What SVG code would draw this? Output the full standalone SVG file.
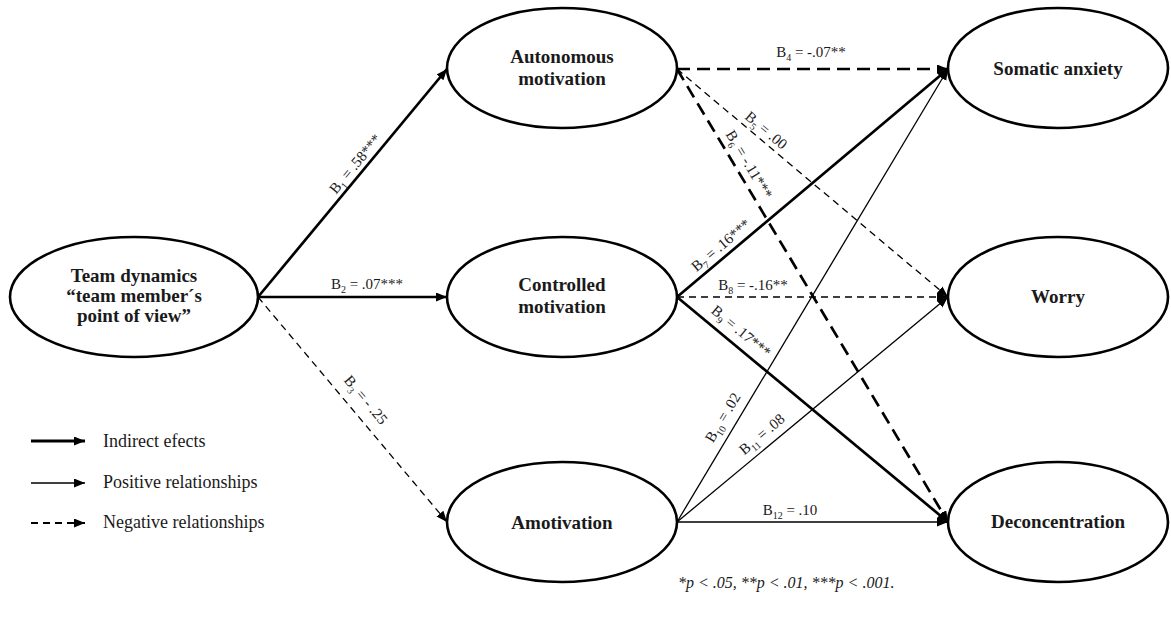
<svg xmlns="http://www.w3.org/2000/svg" width="1171" height="619" viewBox="0 0 1171 619">
<defs>
<style>
.node ellipse{fill:#fff;stroke:#000;stroke-width:2.6}
.nl{font-family:"Liberation Serif",serif;font-weight:bold;font-size:19px;text-anchor:middle;fill:#1a1a1a}
.el{font-family:"Liberation Serif",serif;font-size:15px;text-anchor:middle;fill:#1a1a1a}
.lg{font-family:"Liberation Serif",serif;font-size:18px;fill:#1a1a1a}
.fn{font-family:"Liberation Serif",serif;font-size:16px;font-style:italic;fill:#1a1a1a}
.c{fill:none;stroke:#000}
.thick{stroke-width:2.7}
.thin{stroke-width:1.3}
.dT{stroke-dasharray:13 7}
.dt{stroke-dasharray:7 5}
.arr{marker-end:url(#ah)}
</style>
<marker id="ah" markerUnits="userSpaceOnUse" markerWidth="13" markerHeight="10" refX="11" refY="4.5" orient="auto">
<path d="M0,0 L11,4.5 L0,9 z" fill="#000"/>
</marker>
</defs>
<rect width="1171" height="619" fill="#fff"/>

<g id="team" class="node"><ellipse cx="134" cy="297" rx="124" ry="60"/>
<text class="nl" x="134" y="282">Team dynamics</text>
<text class="nl" x="134" y="302">“team member´s</text>
<text class="nl" x="134" y="322">point of view”</text></g>

<g id="autonomous" class="node"><ellipse cx="562" cy="68" rx="115" ry="60"/>
<text class="nl" x="562" y="63">Autonomous</text>
<text class="nl" x="562" y="85">motivation</text></g>

<g id="controlled" class="node"><ellipse cx="562" cy="297" rx="115" ry="60"/>
<text class="nl" x="562" y="291">Controlled</text>
<text class="nl" x="562" y="313">motivation</text></g>

<g id="amotivation" class="node"><ellipse cx="562" cy="522" rx="115" ry="60"/>
<text class="nl" x="562" y="529">Amotivation</text></g>

<g id="somatic" class="node"><ellipse cx="1058" cy="68" rx="110" ry="60"/>
<text class="nl" x="1058" y="75">Somatic anxiety</text></g>

<g id="worry" class="node"><ellipse cx="1058" cy="297" rx="110" ry="60"/>
<text class="nl" x="1058" y="303">Worry</text></g>

<g id="deconcentration" class="node"><ellipse cx="1058" cy="522" rx="110" ry="60"/>
<text class="nl" x="1058" y="528">Deconcentration</text></g>

<g id="connectors">
<line class="c thick arr" x1="258" y1="297" x2="447" y2="69"/>
<line class="c thick arr" x1="258" y1="297" x2="447" y2="297"/>
<line class="c thin dt arr" x1="258" y1="297" x2="447" y2="522"/>
<line class="c thick dT arr" x1="677" y1="69" x2="948" y2="69"/>
<line class="c thin dt arr" x1="677" y1="69" x2="948" y2="297"/>
<line class="c thick dT arr" x1="677" y1="69" x2="948" y2="522"/>
<line class="c thick arr" x1="677" y1="297" x2="948" y2="69"/>
<line class="c thin dt arr" x1="677" y1="297" x2="948" y2="297"/>
<line class="c thick arr" x1="677" y1="297" x2="948" y2="522"/>
<line class="c thin arr" x1="677" y1="522" x2="948" y2="69"/>
<line class="c thin arr" x1="677" y1="522" x2="948" y2="297"/>
<line class="c thin arr" x1="677" y1="522" x2="948" y2="522"/>
</g>

<g id="edge-labels">
<text class="el" transform="translate(359,167) rotate(-50.3)">B<tspan font-size="10" dy="4">1</tspan><tspan dy="-4"> = .58***</tspan></text>
<text class="el" x="367" y="289">B<tspan font-size="10" dy="4">2</tspan><tspan dy="-4"> = .07***</tspan></text>
<text class="el" transform="translate(362,403) rotate(50)">B<tspan font-size="10" dy="4">3</tspan><tspan dy="-4"> = - .25</tspan></text>
<text class="el" x="811" y="57">B<tspan font-size="10" dy="4">4</tspan><tspan dy="-4"> = -.07**</tspan></text>
<text class="el" transform="translate(763,134) rotate(40.3)">B<tspan font-size="10" dy="4">5</tspan><tspan dy="-4"> = .00</tspan></text>
<text class="el" transform="translate(745,167) rotate(59.1)">B<tspan font-size="10" dy="4">6</tspan><tspan dy="-4"> = -.11***</tspan></text>
<text class="el" transform="translate(724,249) rotate(-40.2)">B<tspan font-size="10" dy="4">7</tspan><tspan dy="-4"> = .16***</tspan></text>
<text class="el" x="753" y="290">B<tspan font-size="10" dy="4">8</tspan><tspan dy="-4"> = -.16**</tspan></text>
<text class="el" transform="translate(738,335) rotate(39.8)">B<tspan font-size="10" dy="4">9</tspan><tspan dy="-4"> = .17***</tspan></text>
<text class="el" transform="translate(727,420) rotate(-59.2)">B<tspan font-size="10" dy="4">10</tspan><tspan dy="-4"> = .02</tspan></text>
<text class="el" transform="translate(765,438) rotate(-40)">B<tspan font-size="10" dy="4">11</tspan><tspan dy="-4"> = .08</tspan></text>
<text class="el" x="790" y="515">B<tspan font-size="10" dy="4">12</tspan><tspan dy="-4"> = .10</tspan></text>
</g>

<g id="legend">
<line class="c arr" stroke-width="3" x1="31" y1="441" x2="85" y2="441"/>
<text class="lg" x="103" y="447">Indirect efects</text>
<line class="c arr" stroke-width="1.5" x1="31" y1="483" x2="85" y2="483"/>
<text class="lg" x="103" y="488">Positive relationships</text>
<line class="c arr" stroke-width="2" stroke-dasharray="7 5" x1="31" y1="523" x2="85" y2="523"/>
<text class="lg" x="103" y="528">Negative relationships</text>
</g>

<text class="fn" x="678" y="588">*p &lt; .05, **p &lt; .01, ***p &lt; .001.</text>
</svg>
